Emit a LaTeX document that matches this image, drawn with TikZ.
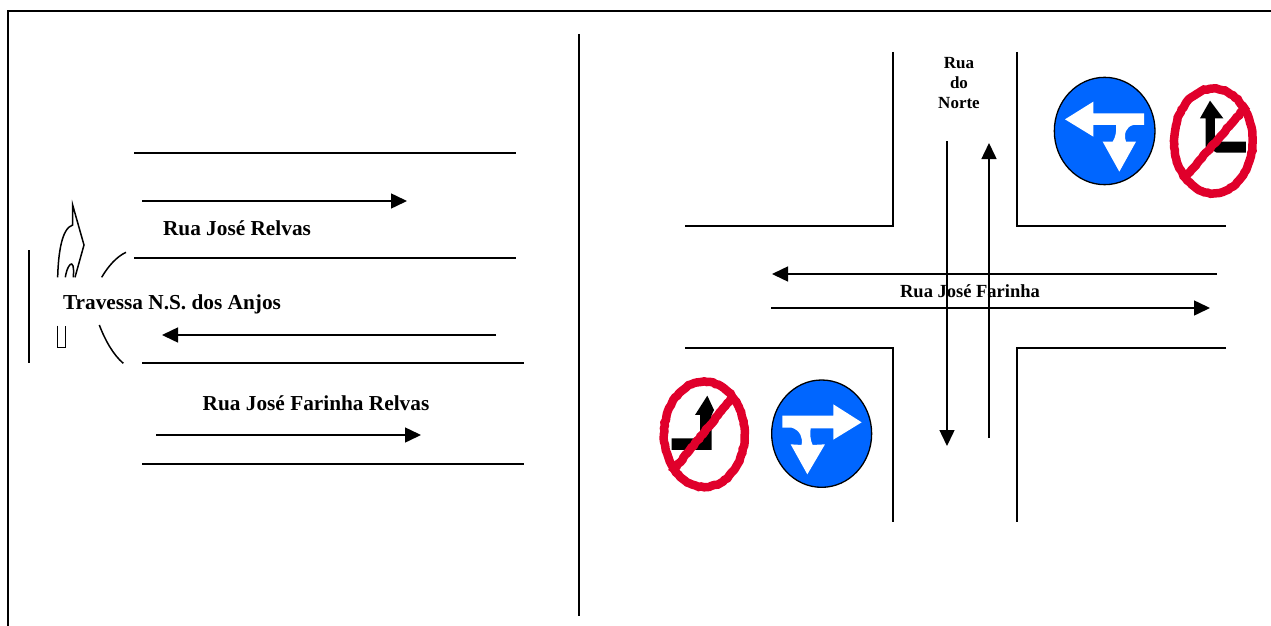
\documentclass[tikz,border=0pt]{standalone}
\usepackage{fontspec}
\setmainfont{Liberation Serif}
\usetikzlibrary{arrows.meta,decorations.pathmorphing}
\definecolor{signblue}{HTML}{0066FF}
\definecolor{signred}{HTML}{E0002B}

\begin{document}
\begin{tikzpicture}[x=1pt,y=-1pt,line width=1.5pt,
  road/.style={black},
  way/.style={-{Triangle[length=16pt,width=15pt]}},
  street/.style={font=\bfseries\fontsize{21.3}{20}\selectfont,inner sep=0pt},
  small street/.style={font=\bfseries\fontsize{17}{20}\selectfont,inner sep=0pt,align=center},
  zoomed/.style={x=0.3333pt,y=-0.3333pt},
  white arrow/.style={fill=white,draw=none},
  black arrow/.style={fill=black,draw=none},
  red ring/.style={draw=signred,line width=8.5pt,
    decorate,decoration={random steps,segment length=3pt,amplitude=0.5pt}}]

  \useasboundingbox (0,0) rectangle (1271,626);

  % frame, open at the right and at the bottom
  \draw[line width=2pt] (8,626) -- (8,11) -- (1271,11);
  \draw[road] (579,34) -- (579,616);

  % left plan
  \draw[road] (134,153) -- (516,153);
  \draw[road] (134,258) -- (516,258);
  \draw[road] (142,363) -- (524,363);
  \draw[road] (142,464) -- (524,464);
  \draw[road] (29,250) -- (29,363);
  \draw[way] (142,201) -- (407,201);
  \draw[way] (496,335) -- (162,335);
  \draw[way] (156,435) -- (421,435);

  \node[street] (relvas) at (237,228) {Rua José Relvas};
  \node[street] (travessa) at (172,304) {Travessa N.S. dos Anjos};
  \node[street] (farinharelvas) at (316,403) {Rua José Farinha Relvas};

  % corner of the junction on the left
  \begin{scope}[shift={(0,190)},zoomed]
    \draw (173,262) .. controls (175,190) and (185,115) .. (218,105) -- (218,45)
      -- (252,165) -- (225,262);
    \draw (196,262) .. controls (200,235) and (210,220) .. (215,222)
      .. controls (222,225) and (221,245) .. (220,262);
    \draw (305,262) .. controls (325,228) and (350,200) .. (378,187);
    \draw (298,405) .. controls (315,450) and (340,495) .. (370,520);
    \draw (172,407) -- (172,472) -- (197,472) -- (197,407);
  \end{scope}

  % crossing on the right
  \draw[road] (893,52) -- (893,226) -- (685,226);
  \draw[road] (1017,52) -- (1017,226) -- (1226,226);
  \draw[road] (685,348) -- (893,348) -- (893,522);
  \draw[road] (1226,348) -- (1017,348) -- (1017,522);
  \draw[way] (1217,274) -- (772,274);
  \draw[way] (771,308) -- (1210,308);
  \draw[way] (947,141) -- (947,446);
  \draw[way] (989,438) -- (989,143);

  \node[small street] (norte) at (959,83) {Rua\\do\\Norte};
  \node[small street,font=\bfseries\fontsize{18.5}{20}\selectfont] (farinha) at (970,291) {Rua José Farinha};

  % blue sign, top right
  \begin{scope}[shift={(1040,60)},zoomed]
    \draw[fill=signblue,line width=1.3pt] (194,213) ellipse [x radius=151,y radius=161];
    \path[white arrow] (75,178) -- (160,125) -- (160,160) -- (312,160) -- (312,195)
      -- (280,195) .. controls (258,200) and (250,222) .. (258,245) -- (288,245)
      -- (238,335) -- (188,245) -- (218,245) .. controls (228,230) and (230,210) .. (228,195)
      -- (160,195) -- (160,230) -- cycle;
  \end{scope}

  % forbidden sign, top right
  \begin{scope}[shift={(1040,60)},zoomed]
    \path[black arrow] (510,122) -- (550,175) -- (525,175) -- (525,245) -- (618,245)
      -- (618,278) -- (530,278) -- (497,260) -- (497,175) -- (480,175) -- cycle;
    \draw[red ring] (520,243) ellipse [x radius=118,y radius=157];
    \draw[red ring] (620,138) -- (430,358);
  \end{scope}

  % blue sign, bottom left
  \begin{scope}[shift={(650,365)},zoomed]
    \draw[fill=signblue,line width=1.3pt] (515,206) ellipse [x radius=150,y radius=161];
    \path[white arrow] (635,172) -- (550,118) -- (550,152) -- (397,152) -- (397,188)
      -- (425,188) .. controls (450,195) and (460,220) .. (455,240) -- (422,238)
      -- (472,328) -- (525,238) -- (488,240) .. controls (480,225) and (480,205) .. (482,190)
      -- (550,190) -- (550,224) -- cycle;
  \end{scope}

  % forbidden sign, bottom left
  \begin{scope}[shift={(650,365)},zoomed]
    \path[black arrow] (172,92) -- (192,135) -- (185,150) -- (185,255) -- (65,255)
      -- (65,220) -- (150,220) -- (150,150) -- (135,150) -- cycle;
    \draw[red ring] (163,208) ellipse [x radius=121,y radius=158];
    \draw[red ring] (255,88) -- (65,322);
  \end{scope}

\end{tikzpicture}
\end{document}
